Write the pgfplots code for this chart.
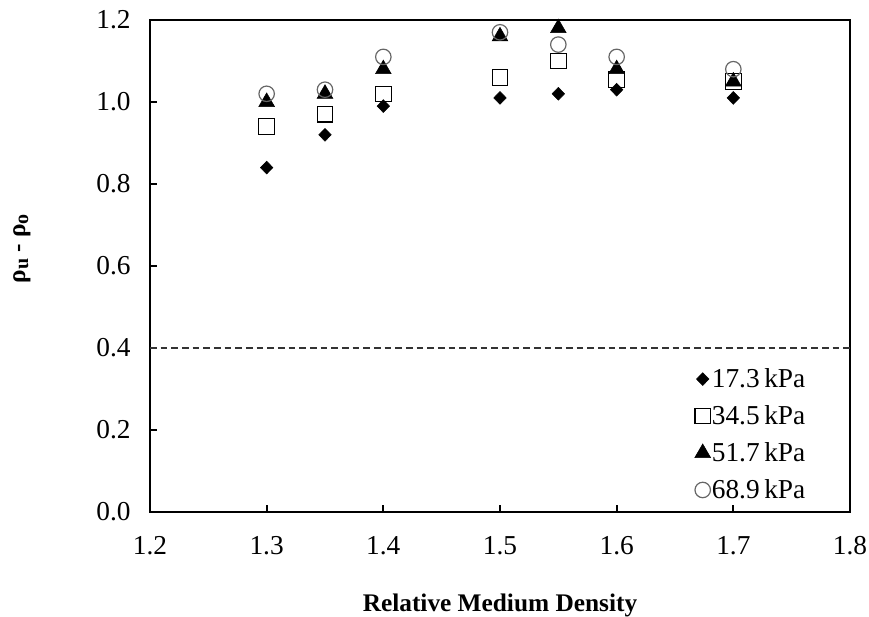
\documentclass[border=0pt]{standalone}
\usepackage{pgfplots}
\pgfplotsset{compat=1.18}
\usepackage{fontspec}
\setmainfont{Liberation Serif}
\begin{document}
\begin{tikzpicture}
\begin{axis}[
  scale only axis,
  width=525pt, height=369pt,
  xmin=1.2, xmax=1.8, ymin=0, ymax=1.2,
  xtick={1.2,1.3,...,1.8}, ytick={0,0.2,...,1.2},
  /pgf/number format/fixed,
  /pgf/number format/fixed zerofill,
  /pgf/number format/precision=1,
  /pgf/number format/assume math mode=true,
  tick label style={font=\fontsize{20.5}{24}\selectfont},
  xtick pos=bottom, ytick pos=left,
  tick align=inside, major tick length=5pt,
  axis line style={line width=1.6pt},
  every tick/.style={line width=1.4pt,black},
  xlabel={\bfseries Relative Medium Density},
  ylabel={\bfseries ρ\raisebox{-0.25ex}{\fontsize{15}{18}\selectfont u} - ρ\raisebox{-0.25ex}{\fontsize{15}{18}\selectfont o}},
  label style={font=\fontsize{19}{23}\selectfont},
  xlabel style={at={(axis description cs:0.5,0)},anchor=center,yshift=-70pt},
  ylabel style={at={(axis description cs:0,0.535)},anchor=center,yshift=96pt},
  xticklabel style={yshift=-15pt},
  yticklabel style={xshift=-11pt},
  legend style={draw=none, fill=none, at={(0.778,0.292)}, anchor=north west,
    font=\fontsize{20.5}{24}\selectfont, row sep=12pt,
    legend cell align=left, inner sep=0pt,
    nodes={inner xsep=1pt, inner ysep=0pt}},
  legend image code/.code={\draw[#1] plot coordinates {(0.14cm,0cm)};},
]
\addplot[only marks, mark=diamond*, mark size=4.8pt, black, mark options={xscale=1.3}]
 coordinates {(1.3,0.84) (1.35,0.92) (1.4,0.99) (1.5,1.01) (1.55,1.02) (1.6,1.03) (1.7,1.01)};
\addlegendentry{17.3\,kPa}
\addplot[only marks, mark=square, mark size=5.8pt, black, mark options={line width=0.8pt}]
 coordinates {(1.3,0.94) (1.35,0.97) (1.4,1.02) (1.5,1.06) (1.55,1.10) (1.6,1.055) (1.7,1.05)};
\addlegendentry{34.5\,kPa}
\addplot[only marks, mark=triangle*, mark size=6.8pt, black]
 coordinates {(1.3,1.00) (1.35,1.02) (1.4,1.08) (1.5,1.16) (1.55,1.18) (1.6,1.08) (1.7,1.05)};
\addlegendentry{51.7\,kPa}
\addplot[only marks, mark=o, mark size=5.8pt, black!60, mark options={line width=0.9pt}]
 coordinates {(1.3,1.02) (1.35,1.03) (1.4,1.11) (1.5,1.17) (1.55,1.14) (1.6,1.11) (1.7,1.08)};
\addlegendentry{68.9\,kPa}
\addplot[black!80, dashed, line width=0.8pt, dash pattern=on 5pt off 3pt, forget plot]
 coordinates {(1.2,0.4) (1.8,0.4)};
\end{axis}
\pgfresetboundingbox
\useasboundingbox (-112.5pt,-78.75pt) rectangle (539.25pt,384pt);
\end{tikzpicture}
\end{document}
